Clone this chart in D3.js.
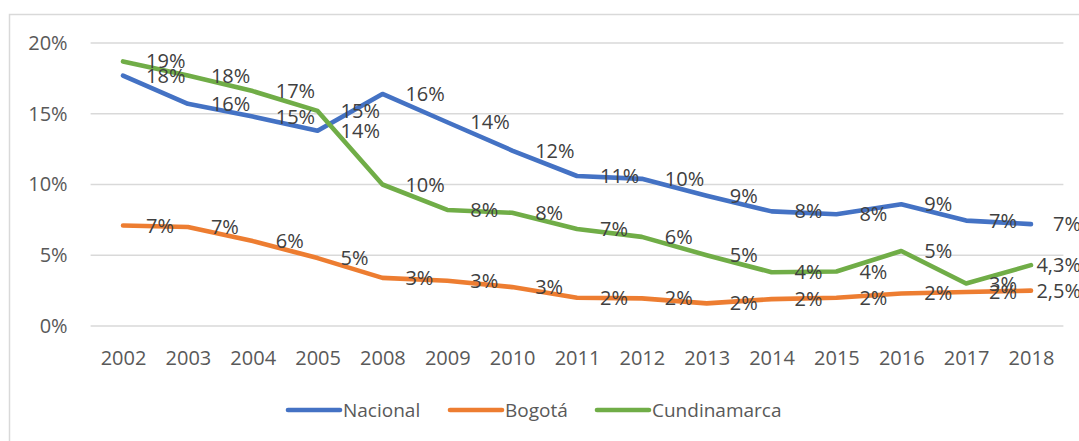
<!DOCTYPE html>
<html>
<head>
<meta charset="utf-8">
<script src="https://cdn.jsdelivr.net/npm/d3@7"></script>
<style>
  html, body { margin: 0; padding: 0; background: #fff; }
  svg { display: block; font-family: "Open Sans", "Liberation Sans", sans-serif; }
</style>
</head>
<body>
<svg id="chart" width="1079" height="441"></svg>
<script>
const years = ["2002","2003","2004","2005","2008","2009","2010","2011","2012","2013","2014","2015","2016","2017","2018"];
const nacional = [17.7, 15.7, 14.8, 13.8, 16.4, 14.4, 12.4, 10.6, 10.4, 9.2, 8.1, 7.9, 8.6, 7.45, 7.2];
const bogota = [7.1, 7.0, 6.0, 4.8, 3.4, 3.2, 2.75, 2.0, 1.95, 1.6, 1.9, 2.0, 2.3, 2.4, 2.5];
const cundinamarca = [18.7, 17.7, 16.6, 15.2, 10.0, 8.2, 8.0, 6.85, 6.3, 5.0, 3.8, 3.85, 5.3, 3.0, 4.3];
const nacionalLabels = ["18%","16%","15%","14%","16%","14%","12%","11%","10%","9%","8%","8%","9%","7%","7%"];
const bogotaLabels = ["7%","7%","6%","5%","3%","3%","3%","2%","2%","2%","2%","2%","2%","2%","2,5%"];
const cundinamarcaLabels = ["19%","18%","17%","15%","10%","8%","8%","7%","6%","5%","4%","4%","5%","3%","4,3%"];
const yTicks = [0, 5, 10, 15, 20];
const tickLabels = ["0%","5%","10%","15%","20%"];

const series = [
  { name: "Nacional", values: nacional, labels: nacionalLabels, color: "#4472C4" },
  { name: "Bogotá", values: bogota, labels: bogotaLabels, color: "#ED7D31" },
  { name: "Cundinamarca", values: cundinamarca, labels: cundinamarcaLabels, color: "#70AD47" }
];

const W = 1079;
const svg = d3.select("#chart");

// chart border
svg.append("rect")
  .attr("x", 9.5).attr("y", 14.5)
  .attr("width", 1100).attr("height", 500)
  .attr("fill", "none").attr("stroke", "#d9d9d9").attr("stroke-width", 1.5);

const plot = { left: 90.6, right: 1063.4, top: 43, bottom: 326 };

const x = d3.scalePoint().domain(years).range([plot.left, plot.right]).padding(0.5);
const y = d3.scaleLinear().domain([0, 20]).range([plot.bottom, plot.top]);

// gridlines
svg.append("g").selectAll("line").data(yTicks).join("line")
  .attr("x1", plot.left).attr("x2", plot.right)
  .attr("y1", d => y(d)).attr("y2", d => y(d))
  .attr("stroke", "#d9d9d9").attr("stroke-width", 1.5);

// y axis labels
const yAxis = svg.append("g")
  .attr("transform", `translate(${plot.left - 23},0)`)
  .call(d3.axisLeft(y).tickValues(yTicks).tickSize(0).tickPadding(0)
    .tickFormat((d, i) => tickLabels[i]));
yAxis.select(".domain").remove();
yAxis.selectAll("text")
  .attr("fill", "#595959").attr("font-size", "20px")
  .attr("font-family", "Open Sans, Liberation Sans, sans-serif");

// x axis labels
const xAxis = svg.append("g")
  .attr("transform", `translate(0,${plot.bottom + 32})`)
  .call(d3.axisBottom(x).tickSize(0).tickPadding(0));
xAxis.select(".domain").remove();
xAxis.selectAll("text")
  .attr("fill", "#595959").attr("font-size", "20px")
  .attr("font-family", "Open Sans, Liberation Sans, sans-serif")
  .attr("y", 0)
  .attr("dy", "0.35em");

// lines
const line = d3.line()
  .x((d, i) => x(years[i]))
  .y(d => y(d));

svg.append("g").selectAll("path").data(series).join("path")
  .attr("d", s => line(s.values))
  .attr("fill", "none")
  .attr("stroke", s => s.color)
  .attr("stroke-width", 4.6)
  .attr("stroke-linecap", "round")
  .attr("stroke-linejoin", "round");

// data labels (placed to the right of each point, pulled back at the right edge)
series.forEach(s => {
  svg.append("g").selectAll("text").data(s.values).join("text")
    .attr("x", (d, i) => x(years[i]) + 23)
    .attr("y", d => y(d))
    .attr("dy", "0.35em")
    .attr("fill", "#404040")
    .attr("font-size", "20px")
    .text((d, i) => s.labels[i])
    .each(function() {
      const w = this.getComputedTextLength();
      const cx = +this.getAttribute("x");
      if (cx + w > W + 2) this.setAttribute("x", W + 2 - w);
    });
});

// legend
const legendX = [288, 450, 597];
const legendY = 410;
const lg = svg.append("g").selectAll("g").data(series).join("g")
  .attr("transform", (d, i) => `translate(${legendX[i]},${legendY})`);
lg.append("line")
  .attr("x1", 0).attr("x2", 52).attr("y1", 0).attr("y2", 0)
  .attr("stroke", d => d.color).attr("stroke-width", 4.6)
  .attr("stroke-linecap", "round");
lg.append("text")
  .attr("x", 55).attr("y", 0).attr("dy", "0.35em")
  .attr("fill", "#595959").attr("font-size", "19px")
  .text(d => d.name);
</script>
</body>
</html>
